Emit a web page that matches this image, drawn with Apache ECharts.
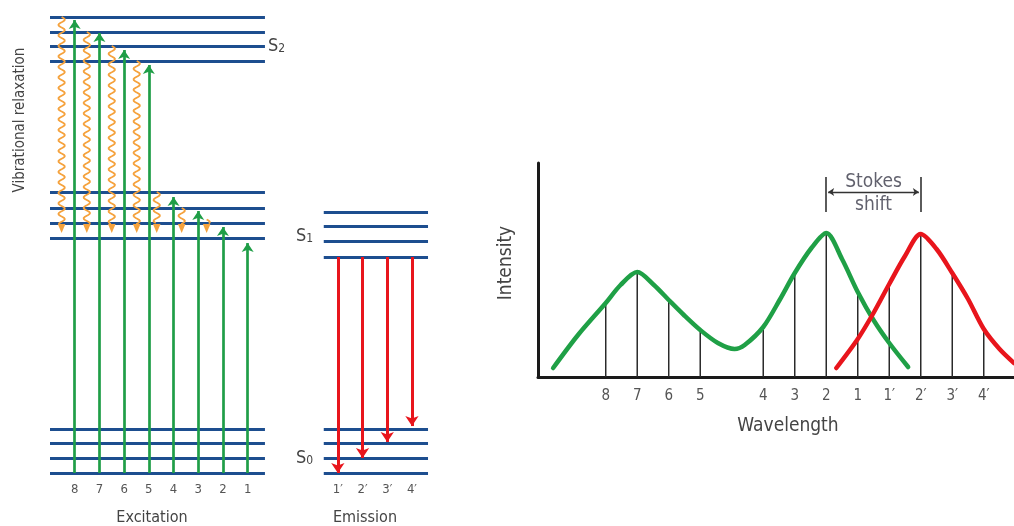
<!DOCTYPE html>
<html>
<head>
<meta charset="utf-8">
<script src="https://cdn.jsdelivr.net/npm/echarts@6/dist/echarts.min.js"></script>
<style>
  html, body { margin: 0; padding: 0; background: #fff; }
  #chart { width: 1014px; height: 526px; }
</style>
</head>
<body>
<div id="chart"></div>
<script>
// ---- energy diagram (left) ----
var s2Levels = [27.47, 28.47, 29.4, 30.4];
var s1ExcLevels = [15.67, 16.67, 17.67, 18.73];
var s1EmiLevels = [14.4, 15.47, 16.47, 17.4];
var s0Levels = [0, 1, 1.97, 2.93];
var excSpan = [-1, 7.7];
var emiSpan = [10.08, 14.3];

var excLabels = ['8', '7', '6', '5', '4', '3', '2', '1'];
var excCols = [0, 1, 2, 3, 4, 5, 6, 7];
var excTops = [30.2, 29.33, 28.2, 27.2, 18.4, 17.47, 16.4, 15.33];

var emiLabels = ['1\u2032', '2\u2032', '3\u2032', '4\u2032'];
var emiCols = [10.65, 11.65, 12.65, 13.65];
var emiStart = 14.4;
var emiEnds = [0, 1, 2.07, 3.13];

var relaxCols = [-0.53, 0.49, 1.5, 2.51, 3.32, 4.33, 5.34];
var relaxStarts = [30.4, 29.4, 28.47, 27.47, 18.73, 17.67, 16.9];
var relaxEnd = 16.0;

// ---- spectrum (right) ----
var waveLabels = ['8', '7', '6', '5', '4', '3', '2', '1', '1\u2032', '2\u2032', '3\u2032', '4\u2032'];
var wavePos = [1, 2, 3, 4, 6, 7, 8, 9, 10, 11, 12, 13];
var waveHeights = [74, 105, 77, 47, 50, 104, 144, 85, 93, 143, 104, 48];

var absX = [-0.67, 0.12, 1, 1.47, 2, 2.53, 3, 3.48, 4, 4.56, 5.09, 5.41, 6, 6.52, 7, 7.53, 8, 8.5, 9, 9.5, 10, 10.6];
var absY = [9, 42, 74, 92, 105, 92, 77, 62, 47, 34, 28, 32, 50, 77, 104, 129, 144, 118, 85, 57, 34, 10];
var emX = [8.32, 9, 9.5, 10, 10.5, 11, 11.5, 12, 12.5, 13, 13.5, 13.96];
var emY = [9, 38, 64, 93, 121, 143, 128, 104, 78, 48, 28, 14];

var stokesFrom = 8, stokesTo = 11;

var FONT = "'DejaVu Sans Condensed', 'Liberation Sans', sans-serif";

function segs(levels, span) {
  return levels.map(function (y) { return { coords: [[span[0], y], [span[1], y]] }; });
}
var levelData = [].concat(
  segs(s2Levels, excSpan), segs(s1ExcLevels, excSpan), segs(s0Levels, excSpan),
  segs(s1EmiLevels, emiSpan), segs(s0Levels, emiSpan)
);

function zip(xs, ys) { return xs.map(function (x, i) { return [x, ys[i]]; }); }

function pickLabel(v, cols, labels) {
  for (var i = 0; i < cols.length; i++) {
    if (Math.abs(cols[i] - v) < 0.01) return labels[i];
  }
  return '';
}

function renderWave(params, api) {
  var top = api.coord([api.value(0), api.value(1)]);
  var bot = api.coord([api.value(0), api.value(2)]);
  var head = 9, amp = 3.2, period = 10.5;
  var len = bot[1] - head - top[1];
  var pts = [];
  for (var t = 0; t <= len; t += 1) {
    pts.push([top[0] + amp * Math.sin(2 * Math.PI * t / period), top[1] + t]);
  }
  return {
    type: 'group',
    children: [
      { type: 'polyline', shape: { points: pts }, style: { stroke: '#f5a23d', lineWidth: 1.8, fill: null } },
      { type: 'polygon', shape: { points: [[bot[0] - 3.8, bot[1] - head], [bot[0] + 3.8, bot[1] - head], [bot[0], bot[1]]] },
        style: { fill: '#f5a23d' } }
    ]
  };
}

var chart = echarts.init(document.getElementById('chart'));

var option = {
  backgroundColor: '#fff',
  animation: false,
  textStyle: { fontFamily: FONT },
  grid: [
    { left: 50, top: 17, width: 380, height: 456 },
    { left: 538, top: 163, right: 0, height: 214 }
  ],
  xAxis: [
    {
      gridIndex: 0, type: 'value', min: -1, max: 14.38,
      axisLine: { show: false }, axisTick: { show: false }, splitLine: { show: false },
      axisLabel: {
        customValues: excCols.concat(emiCols), margin: 10, fontSize: 13, color: '#555', fontFamily: FONT,
        formatter: function (v) { return pickLabel(v, excCols, excLabels) || pickLabel(v, emiCols, emiLabels); }
      }
    },
    {
      gridIndex: 1, type: 'value', min: -1.15, max: 13.96,
      axisLine: { onZero: false, lineStyle: { color: '#1a1a1a', width: 3 } },
      axisTick: { show: false }, splitLine: { show: false },
      axisLabel: {
        customValues: wavePos, margin: 12, fontSize: 15, color: '#555', fontFamily: FONT,
        formatter: function (v) { return pickLabel(v, wavePos, waveLabels); }
      },
      name: 'Wavelength', nameLocation: 'middle', nameGap: 40,
      nameTextStyle: { fontSize: 19, color: '#444', fontFamily: FONT, padding: [0, 0, 0, 24] }
    }
  ],
  yAxis: [
    { gridIndex: 0, type: 'value', min: 0, max: 30.4, show: false },
    {
      gridIndex: 1, type: 'value', min: 0, max: 214,
      axisLine: { show: true, onZero: false, lineStyle: { color: '#1a1a1a', width: 3 } },
      axisTick: { show: false }, axisLabel: { show: false }, splitLine: { show: false },
      name: 'Intensity', nameLocation: 'middle', nameGap: 22,
      nameTextStyle: { fontSize: 19, color: '#444', fontFamily: FONT, padding: [0, 0, 0, 14] }
    }
  ],
  graphic: [
    { type: 'text', x: 20, y: 120, rotation: Math.PI / 2,
      style: { text: 'Vibrational relaxation', fontSize: 15, fill: '#444', fontFamily: FONT, align: 'center', verticalAlign: 'middle' } },
    { type: 'text', x: 268, y: 46,
      style: { text: '{s|S}{b|2}', fill: '#444', verticalAlign: 'middle',
        rich: { s: { fontSize: 18, fontFamily: FONT, fill: '#444' }, b: { fontSize: 12, fontFamily: FONT, fill: '#444', verticalAlign: 'bottom' } } } },
    { type: 'text', x: 296, y: 236,
      style: { text: '{s|S}{b|1}', fill: '#444', verticalAlign: 'middle',
        rich: { s: { fontSize: 18, fontFamily: FONT, fill: '#444' }, b: { fontSize: 12, fontFamily: FONT, fill: '#444', verticalAlign: 'bottom' } } } },
    { type: 'text', x: 296, y: 458,
      style: { text: '{s|S}{b|0}', fill: '#444', verticalAlign: 'middle',
        rich: { s: { fontSize: 18, fontFamily: FONT, fill: '#444' }, b: { fontSize: 12, fontFamily: FONT, fill: '#444', verticalAlign: 'bottom' } } } },
    { type: 'text', x: 152, y: 518,
      style: { text: 'Excitation', fontSize: 16, fill: '#444', fontFamily: FONT, align: 'center', verticalAlign: 'middle' } },
    { type: 'text', x: 365, y: 518,
      style: { text: 'Emission', fontSize: 16, fill: '#444', fontFamily: FONT, align: 'center', verticalAlign: 'middle' } }
  ],
  series: [
    {
      name: 'levels', type: 'lines', coordinateSystem: 'cartesian2d', xAxisIndex: 0, yAxisIndex: 0,
      clip: false, silent: true, z: 1, symbol: 'none',
      lineStyle: { color: '#1d4e8f', width: 3, opacity: 1 },
      data: levelData
    },
    {
      name: 'excitation', type: 'lines', coordinateSystem: 'cartesian2d', xAxisIndex: 0, yAxisIndex: 0,
      clip: false, silent: true, z: 3, symbol: ['none', 'arrow'], symbolSize: 9,
      lineStyle: { color: '#1f9e47', width: 2.7, opacity: 1 },
      data: excCols.map(function (c, i) { return { coords: [[c, s0Levels[0]], [c, excTops[i]]] }; })
    },
    {
      name: 'emission', type: 'lines', coordinateSystem: 'cartesian2d', xAxisIndex: 0, yAxisIndex: 0,
      clip: false, silent: true, z: 3, symbol: ['none', 'arrow'], symbolSize: 10,
      lineStyle: { color: '#e8151c', width: 3, opacity: 1 },
      data: emiCols.map(function (c, i) { return { coords: [[c, emiStart], [c, emiEnds[i]]] }; })
    },
    {
      name: 'relaxation', type: 'custom', xAxisIndex: 0, yAxisIndex: 0, z: 2, silent: true,
      renderItem: renderWave,
      encode: { x: 0, y: [1, 2] },
      data: relaxCols.map(function (c, i) { return [c, relaxStarts[i], relaxEnd]; })
    },
    {
      name: 'transitions', type: 'bar', xAxisIndex: 1, yAxisIndex: 1, barWidth: 1.5, z: 2, silent: true,
      itemStyle: { color: '#2a2a2a' },
      data: zip(wavePos, waveHeights)
    },
    {
      name: 'absorption', type: 'line', xAxisIndex: 1, yAxisIndex: 1, smooth: 0.3, showSymbol: false, z: 4, silent: true,
      lineStyle: { color: '#1fa046', width: 4.5, cap: 'round' },
      data: zip(absX, absY)
    },
    {
      name: 'fluorescence', type: 'line', xAxisIndex: 1, yAxisIndex: 1, smooth: 0.3, showSymbol: false, z: 4, silent: true,
      lineStyle: { color: '#e8151c', width: 4.5, cap: 'round' },
      data: zip(emX, emY)
    },
    {
      name: 'stokes marks', type: 'lines', coordinateSystem: 'cartesian2d', xAxisIndex: 1, yAxisIndex: 1,
      clip: false, silent: true, z: 5, symbol: 'none',
      lineStyle: { color: '#333', width: 1.6, opacity: 1 },
      data: [
        { coords: [[stokesFrom, 165], [stokesFrom, 200]] },
        { coords: [[stokesTo, 165], [stokesTo, 200]] }
      ]
    },
    {
      name: 'stokes arrow', type: 'lines', coordinateSystem: 'cartesian2d', xAxisIndex: 1, yAxisIndex: 1,
      clip: false, silent: true, z: 5, symbol: ['arrow', 'arrow'], symbolSize: 6,
      lineStyle: { color: '#333', width: 1.4, opacity: 1 },
      data: [{ coords: [[stokesFrom + 0.06, 185], [stokesTo - 0.06, 185]] }]
    },
    {
      name: 'stokes text', type: 'scatter', xAxisIndex: 1, yAxisIndex: 1, symbolSize: 0, z: 6, silent: true,
      label: { show: true, position: 'inside', formatter: 'Stokes\nshift', fontSize: 19, lineHeight: 23,
        color: '#3a3a48', fontFamily: FONT },
      data: [[(stokesFrom + stokesTo) / 2, 183.5]]
    }
  ]
};

chart.setOption(option);
</script>
</body>
</html>
